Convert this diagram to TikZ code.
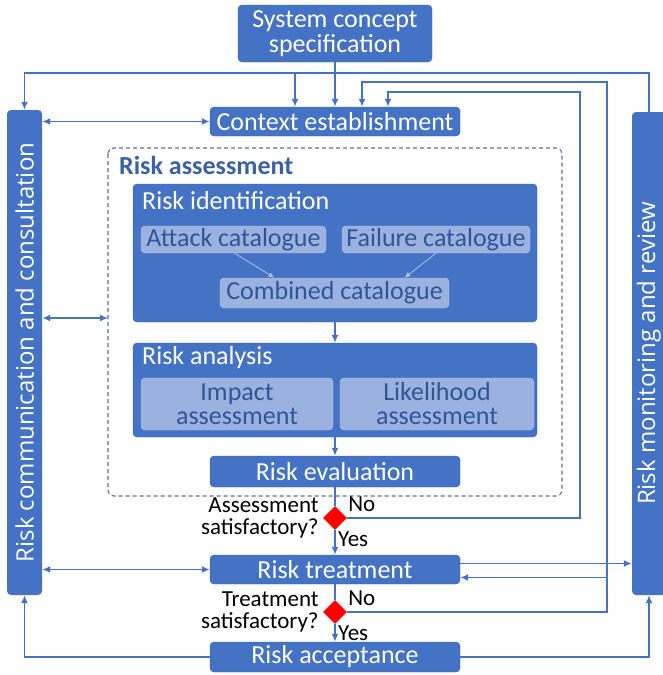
\documentclass[tikz,border=0pt]{standalone}
\usepackage{fontspec}
\setmainfont{Carlito}
\newfontfamily\barfont{Open Sans}
\usetikzlibrary{arrows.meta,shapes.geometric,positioning}
\definecolor{boxblue}{HTML}{4472C4}
\definecolor{boxline}{HTML}{3A64B0}
\definecolor{subfill}{HTML}{9BB1DF}
\definecolor{subtext}{HTML}{2F5597}
\definecolor{dashgray}{HTML}{5A6C96}
\newcommand{\procNode}{\node[rectangle,rounded corners=4pt,draw=boxline,fill=boxblue,text=white,inner sep=0pt,align=center,font=\fontsize{26}{25}\selectfont]}
\newcommand{\subNode}{\node[rectangle,rounded corners=4pt,draw=subfill!70!white,fill=subfill,text=subtext,inner sep=0pt,align=center,font=\fontsize{26}{24}\selectfont]}
\newcommand{\decNode}{\node[diamond,fill=red,minimum size=24pt,inner sep=0pt]}
\tikzset{
  flow/.style={draw=boxblue,line width=1.8pt},
  faint/.style={draw=subfill!80!white,line width=0.8pt,-{Latex[length=6pt,width=5pt]}},
  answer/.style={font=\fontsize{23}{22}\selectfont,inner sep=1pt}
}

\begin{document}
\begin{tikzpicture}[x=1pt,y=-1pt,>={Latex[length=8pt,width=7pt]}]
\useasboundingbox (0,0) rectangle (662,675);

% side bars
\node[rectangle,rounded corners=4pt,fill=boxblue,minimum width=35pt,minimum height=485pt] (comm) at (24.5,352.5) {};
\node[rotate=90,text=white,font=\barfont\fontsize{24}{24}\selectfont] at (comm) {Risk communication and consultation};
\node[rectangle,rounded corners=4pt,fill=boxblue,minimum width=34pt,minimum height=483pt] (mon) at (649,353.5) {};
\node[rotate=90,text=white,font=\barfont\fontsize{24}{24}\selectfont] at (mon) {Risk monitoring and review};

% main process
\procNode[minimum width=194pt,minimum height=57pt] (sys) at (335,33.5) {System concept\\specification};
\procNode[minimum width=250pt,minimum height=29pt] (ctx) at (335,121.5) {Context establishment};

\draw[dashgray,line width=1.1pt,dash pattern=on 4pt off 3pt,rounded corners=6pt] (108,148) rectangle (562,496);
\coordinate (ra) at (108,318);
\node[anchor=west,text=boxblue!85!black,font=\bfseries\fontsize{26}{26}\selectfont,inner sep=0pt] (asstitle) at (119,165) {Risk assessment};

\procNode[minimum width=404pt,minimum height=138pt] (ident) at (335,253) {};
\node[anchor=west,text=white,font=\fontsize{26}{26}\selectfont,inner sep=0pt] at (142,201) {Risk identification};
\subNode[minimum width=185pt,minimum height=27pt] (attack) at (233.5,239.5) {Attack catalogue};
\subNode[minimum width=188pt,minimum height=27pt] (failure) at (436,239.5) {Failure catalogue};
\subNode[minimum width=229pt,minimum height=30pt] (combined) at (334.5,293) {Combined catalogue};
\draw[faint] ([xshift=1pt]attack.south) -- ([xshift=-60pt]combined.north);
\draw[faint] (failure.south) -- ([xshift=70pt]combined.north);

\procNode[minimum width=404pt,minimum height=94pt] (analysis) at (335,390) {};
\node[anchor=west,text=white,font=\fontsize{26}{26}\selectfont,inner sep=0pt] at (142,358) {Risk analysis};
\subNode[minimum width=192pt,minimum height=52pt] (impact) at (237,404) {Impact\\assessment};
\subNode[minimum width=194pt,minimum height=52pt] (likely) at (437,404) {Likelihood\\assessment};

\procNode[minimum width=250pt,minimum height=31pt] (eval) at (335,471.5) {Risk evaluation};
\decNode (d1) at (335,518) {};
\procNode[minimum width=250pt,minimum height=29pt] (treat) at (335,569.5) {Risk treatment};
\decNode (d2) at (335,612) {};
\procNode[minimum width=250pt,minimum height=30pt] (accept) at (335,657) {Risk acceptance};

% decision labels
\node[answer,anchor=east,align=right] at ([xshift=-3pt]d1.west) {Assessment\\satisfactory?};
\node[answer,anchor=east,align=right] at ([xshift=-3pt]d2.west) {Treatment\\satisfactory?};
\node[answer,anchor=south west] at ([xshift=6pt,yshift=-1pt]d1.north east) {No};
\node[answer,anchor=south west] at ([xshift=6pt,yshift=-1pt]d2.north east) {No};
\node[answer,anchor=north west] at ([xshift=2pt]d1.south) {Yes};
\node[answer,anchor=north west] at ([xshift=2pt]d2.south) {Yes};

% connectors
\coordinate (y73) at (0,73);
\coordinate (c1) at (295,73);
\coordinate (r1) at (607,82);
\coordinate (r2) at (580,92);
\coordinate (tin) at ([yshift=-8pt]treat.east);
\coordinate (tout) at ([yshift=6pt]treat.east);

\draw[flow,->] (sys) -- (ctx);
\draw[flow,->] (mon.north) |- (comm.north |- y73) -- (comm.north);
\draw[flow,->] (c1) -- (c1 |- ctx.north);
\draw[flow,->] (d2.east) -| (r1) -| ([xshift=27pt]ctx.north);
\draw[flow,->] (d1.east) -| (r2) -| ([xshift=53pt]ctx.north);
\draw[flow,->] (r1 |- tin) -- (tin);
\draw[flow,->] (tout) -- (tout -| mon.west);

\draw[flow,<->] (comm.east |- ctx.west) -- (ctx.west);
\draw[flow,<->] (comm.east |- ra) -- (ra);
\draw[flow,<->] (comm.east |- treat.west) -- (treat.west);
\draw[flow,->] (accept.west) -| (comm.south);
\draw[flow,->] (accept.east) -| (mon.south);

\draw[flow,->] (ident) -- (analysis);
\draw[flow,->] (analysis) -- (eval);
\draw[flow] (eval) -- (d1);
\draw[flow,->] (d1) -- (treat);
\draw[flow] (treat) -- (d2);
\draw[flow,->] (d2) -- (accept);

\end{tikzpicture}
\end{document}
